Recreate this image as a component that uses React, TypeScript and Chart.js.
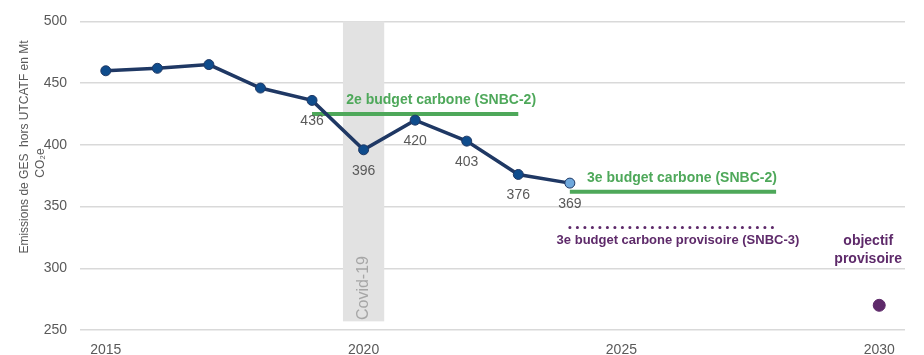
import React, { useEffect, useRef } from 'react';
import { Chart, registerables } from 'chart.js';

Chart.register(...registerables);

// ---- Data ----
const years = [2015, 2016, 2017, 2018, 2019, 2020, 2021, 2022, 2023, 2024];
const emissions = [460, 462, 465, 446, 436, 396, 420, 403, 376, 369];
const labeledYears = [2019, 2020, 2021, 2022, 2023, 2024];
const budget2Years = [2019, 2023];
const budget2Value = 425;
const budget3Years = [2024, 2028];
const budget3Value = 362;
const budget3ProvYears = [2024, 2028];
const budget3ProvValue = 333;
const objectiveYear = 2030;
const objectiveValue = 270;
const covidRange = [2019.6, 2020.4];
const covidValues = [257, 500];
const xTicks = [2015, 2020, 2025, 2030];
const yTicks = [250, 300, 350, 400, 450, 500];

const NAVY = '#1F3864';
const GREEN = '#4EA85A';
const PURPLE = '#5E2A6A';
const GREY_TXT = '#595959';
const FONT = "'Liberation Sans', Arial, sans-serif";

const overlayPlugin = {
  id: 'overlay',
  beforeDatasetsDraw(chart: any) {
    const { ctx, scales } = chart;
    const x = scales.x, y = scales.y;
    ctx.save();
    // covid band
    const x0 = x.getPixelForValue(covidRange[0]);
    const x1 = x.getPixelForValue(covidRange[1]);
    const yTop = y.getPixelForValue(covidValues[1]);
    const yBot = y.getPixelForValue(covidValues[0]);
    ctx.fillStyle = '#E2E2E2';
    ctx.fillRect(x0, yTop, x1 - x0, yBot - yTop);
    // covid text
    ctx.translate(x.getPixelForValue(2020), y.getPixelForValue(284));
    ctx.rotate(-Math.PI / 2);
    ctx.fillStyle = '#A6A6A6';
    ctx.font = `16px ${FONT}`;
    ctx.textAlign = 'center';
    ctx.textBaseline = 'middle';
    ctx.fillText('Covid-19', 0, 0);
    ctx.restore();
  },
  afterDatasetsDraw(chart: any) {
    const { ctx, scales } = chart;
    const x = scales.x, y = scales.y;
    ctx.save();
    // data labels
    ctx.font = `14px ${FONT}`;
    ctx.fillStyle = GREY_TXT;
    ctx.textAlign = 'center';
    ctx.textBaseline = 'middle';
    years.forEach((yr, i) => {
      if (!labeledYears.includes(yr)) return;
      ctx.fillText(String(emissions[i]), x.getPixelForValue(yr), y.getPixelForValue(emissions[i]) + 21);
    });
    // budget labels
    ctx.font = `bold 14px ${FONT}`;
    ctx.fillStyle = GREEN;
    const b2c = (x.getPixelForValue(budget2Years[0]) + x.getPixelForValue(budget2Years[1])) / 2;
    ctx.fillText('2e budget carbone (SNBC-2)', b2c + 26, y.getPixelForValue(budget2Value) - 14);
    const b3c = (x.getPixelForValue(budget3Years[0]) + x.getPixelForValue(budget3Years[1])) / 2;
    ctx.fillText('3e budget carbone (SNBC-2)', b3c + 9, y.getPixelForValue(budget3Value) - 14);
    ctx.font = `bold 13px ${FONT}`;
    ctx.fillStyle = PURPLE;
    const bpc = (x.getPixelForValue(budget3ProvYears[0]) + x.getPixelForValue(budget3ProvYears[1])) / 2;
    ctx.fillText('3e budget carbone provisoire (SNBC-3)', bpc + 5, y.getPixelForValue(budget3ProvValue) + 13);
    ctx.font = `bold 14px ${FONT}`;
    const ox = x.getPixelForValue(objectiveYear) - 11;
    const oy = y.getPixelForValue(objectiveValue);
    ctx.fillText('objectif', ox, oy - 64);
    ctx.fillText('provisoire', ox, oy - 46);
    // y axis title
    ctx.fillStyle = GREY_TXT;
    ctx.font = `12px ${FONT}`;
    ctx.translate(25, 147);
    ctx.rotate(-Math.PI / 2);
    ctx.fillText('Emissions de GES  hors UTCATF en Mt', 0, 0);
    ctx.fillText('CO\u2082e', -16, 16);
    ctx.restore();
  },
};

export default function App() {
  const ref = useRef<HTMLCanvasElement>(null);
  useEffect(() => {
    document.body.style.margin = '0';
    const pointColors = emissions.map((_, i) => (i === emissions.length - 1 ? '#6FA8DC' : '#0F4C8C'));
    const chart = new Chart(ref.current!, {
      type: 'line',
      data: {
        datasets: [
          {
            data: years.map((yr, i) => ({ x: yr, y: emissions[i] })),
            borderColor: NAVY,
            borderWidth: 3.5,
            pointRadius: 5,
            pointBackgroundColor: pointColors,
            pointBorderColor: NAVY,
            pointBorderWidth: 1,
          },
          {
            data: budget2Years.map((yr) => ({ x: yr, y: budget2Value })),
            borderColor: GREEN,
            borderWidth: 4,
            pointRadius: 0,
          },
          {
            data: budget3Years.map((yr) => ({ x: yr, y: budget3Value })),
            borderColor: GREEN,
            borderWidth: 4,
            pointRadius: 0,
          },
          {
            data: budget3ProvYears.map((yr) => ({ x: yr, y: budget3ProvValue })),
            borderColor: PURPLE,
            borderWidth: 3,
            borderDash: [0.1, 7.4],
            borderCapStyle: 'round',
            pointRadius: 0,
          },
          {
            data: [{ x: objectiveYear, y: objectiveValue }],
            showLine: false,
            pointRadius: 6,
            pointBackgroundColor: PURPLE,
            pointBorderColor: PURPLE,
          },
        ],
      } as any,
      options: {
        responsive: false,
        animation: false,
        layout: { padding: { top: 17, right: 19, left: 0, bottom: 0 } },
        plugins: { legend: { display: false }, tooltip: { enabled: false } },
        scales: {
          x: {
            type: 'linear',
            min: 2014.5,
            max: 2030.5,
            grid: { display: false },
            border: { display: false },
            afterBuildTicks: (s: any) => { s.ticks = xTicks.map((v) => ({ value: v })); },
            afterFit: (s: any) => { s.height = 25; },
            ticks: { color: GREY_TXT, font: { size: 14, family: FONT }, padding: 4, callback: (v: any) => String(v) },
          },
          y: {
            min: 250,
            max: 500,
            grid: { color: '#D9D9D9', lineWidth: 1.5, drawTicks: false },
            border: { display: false },
            afterBuildTicks: (s: any) => { s.ticks = yTicks.map((v) => ({ value: v })); },
            afterFit: (s: any) => { s.width = 80; },
            ticks: { color: GREY_TXT, font: { size: 14, family: FONT }, padding: 13 },
          },
        },
      } as any,
      plugins: [overlayPlugin],
    });
    return () => chart.destroy();
  }, []);
  return (
    <div style={{ width: 924, height: 355 }}>
      <canvas ref={ref} width={924} height={355} />
    </div>
  );
}
